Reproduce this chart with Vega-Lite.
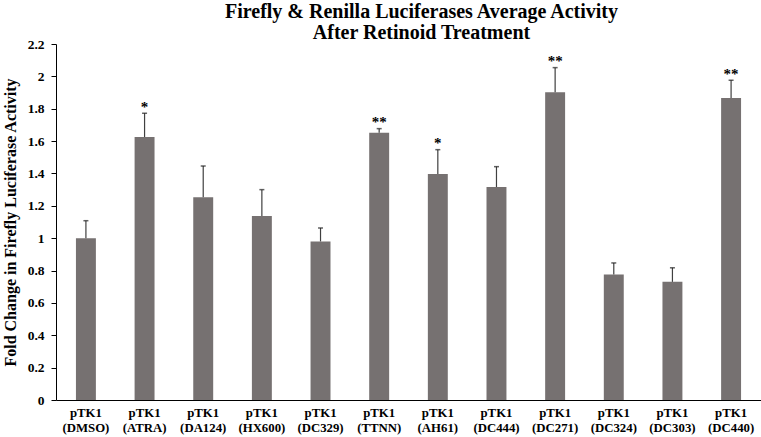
{
  "$schema": "https://vega.github.io/schema/vega-lite/v6.json",
  "width": 705,
  "height": 356,
  "autosize": "none",
  "padding": {"left": 56, "top": 44, "right": 0, "bottom": 37},
  "background": "white",
  "title": {
    "text": ["Firefly & Renilla Luciferases Average Activity", "After Retinoid Treatment"],
    "font": "Liberation Serif",
    "fontSize": 20,
    "fontWeight": "bold",
    "color": "black",
    "anchor": "middle",
    "dx": 13,
    "offset": -6,
    "lineHeight": 21
  },
  "config": {
    "view": {"stroke": null},
    "axis": {"labelFont": "Liberation Serif", "titleFont": "Liberation Serif", "labelColor": "black", "titleColor": "black", "domainColor": "black", "tickColor": "black", "grid": false},
    "axisY": {"labelOverlap": false, "labelFontSize": 13.5, "labelFontWeight": "bold", "titleFontSize": 16, "titleFontWeight": "bold", "tickSize": 5, "labelPadding": 7, "titlePadding": 9}
  },
  "data": {
    "values": [
      {"group": "pTK1 (DMSO)", "mean": 1.0, "upper": 1.108, "sig": ""},
      {"group": "pTK1 (ATRA)", "mean": 1.625, "upper": 1.772, "sig": "*"},
      {"group": "pTK1 (DA124)", "mean": 1.253, "upper": 1.446, "sig": ""},
      {"group": "pTK1 (HX600)", "mean": 1.137, "upper": 1.3, "sig": ""},
      {"group": "pTK1 (DC329)", "mean": 0.98, "upper": 1.063, "sig": ""},
      {"group": "pTK1 (TTNN)", "mean": 1.652, "upper": 1.677, "sig": "**"},
      {"group": "pTK1 (AH61)", "mean": 1.397, "upper": 1.547, "sig": "*"},
      {"group": "pTK1 (DC444)", "mean": 1.316, "upper": 1.442, "sig": ""},
      {"group": "pTK1 (DC271)", "mean": 1.902, "upper": 2.054, "sig": "**"},
      {"group": "pTK1 (DC324)", "mean": 0.775, "upper": 0.847, "sig": ""},
      {"group": "pTK1 (DC303)", "mean": 0.73, "upper": 0.817, "sig": ""},
      {"group": "pTK1 (DC440)", "mean": 1.866, "upper": 1.976, "sig": "**"}
    ]
  },
  "encoding": {
    "x": {
      "field": "group",
      "type": "nominal",
      "sort": null,
      "scale": {"paddingInner": 0.66, "paddingOuter": 0.34},
      "axis": {
        "title": null,
        "labelAngle": 0,
        "ticks": false,
        "labelFontSize": 12.8,
        "labelFontWeight": "bold",
        "labelPadding": 6,
        "labelLineHeight": 15,
        "labelExpr": "split(datum.label, ' ')"
      }
    },
    "y": {
      "field": "mean",
      "type": "quantitative",
      "scale": {"domain": [0, 2.2], "nice": false},
      "axis": {
        "title": "Fold Change in Firefly Luciferase Activity",
        "values": [0, 0.2, 0.4, 0.6, 0.8, 1, 1.2, 1.4, 1.6, 1.8, 2, 2.2],
        "labelExpr": "format(datum.value, '~g')",
        "labelOverlap": false,
        "labelFontSize": 13.5,
        "labelFontWeight": "bold",
        "titleFontSize": 16,
        "titleFontWeight": "bold",
        "tickSize": 5,
        "labelPadding": 7,
        "titlePadding": 9
      }
    }
  },
  "layer": [
    {
      "mark": {"type": "bar", "color": "#767171"}
    },
    {
      "mark": {"type": "rule", "color": "#404040", "strokeWidth": 1.2},
      "encoding": {
        "y2": {"field": "upper"}
      }
    },
    {
      "mark": {"type": "tick", "color": "#202020", "size": 5, "thickness": 1.5, "orient": "horizontal"},
      "encoding": {
        "y": {"field": "upper", "type": "quantitative"}
      }
    },
    {
      "mark": {"type": "text", "font": "Liberation Serif", "fontSize": 15, "fontWeight": "bold", "color": "black", "dy": -1.5, "baseline": "alphabetic"},
      "encoding": {
        "y": {"field": "upper", "type": "quantitative"},
        "text": {"field": "sig"}
      }
    }
  ]
}
